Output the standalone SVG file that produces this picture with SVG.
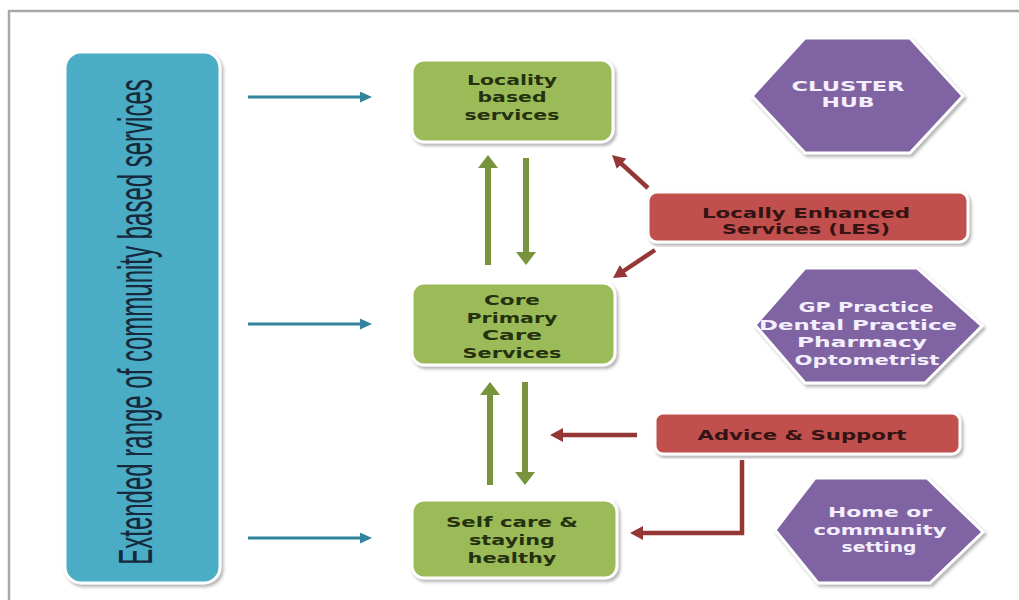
<svg xmlns="http://www.w3.org/2000/svg" width="1019" height="600" viewBox="0 0 1019 600">
<defs>
<style>
.frame{stroke:#a8a8a8;stroke-width:2.5;fill:none}
.box{stroke:#ffffff;stroke-width:3;filter:url(#sh)}
.blue{fill:#4bacc6}
.green{fill:#9bbb59}
.red{fill:#c0504d}
.purple{fill:#8064a2}
.t{font-family:"DejaVu Sans","Verdana",sans-serif;font-weight:bold;font-size:14px;text-anchor:middle}
.tg{fill:#26320f}
.tr{fill:#331413}
.tp{fill:#f3eefb}
.vt{font-family:"Liberation Sans",Arial,sans-serif;font-size:48px;fill:#15283c;text-anchor:middle}
.ateal{stroke:#31849b;stroke-width:3;fill:none;marker-end:url(#mt)}
.agreen{stroke:#77933c;stroke-width:6;fill:none;marker-end:url(#mg)}
.ared{stroke:#953735;stroke-width:4.5;fill:none;marker-end:url(#mr)}
</style>
<filter id="sh" x="-10%" y="-10%" width="120%" height="120%">
<feDropShadow dx="2" dy="2.5" stdDeviation="1.5" flood-color="#777" flood-opacity="0.55"/>
</filter>
<marker id="mt" markerUnits="userSpaceOnUse" markerWidth="13" markerHeight="11" refX="2" refY="5.5" orient="auto"><path d="M0,0 L12,5.5 L0,11 z" fill="#31849b"/></marker>
<marker id="mg" markerUnits="userSpaceOnUse" markerWidth="14" markerHeight="20" refX="3" refY="10" orient="auto"><path d="M0,0 L13,10 L0,20 z" fill="#77933c"/></marker>
<marker id="mr" markerUnits="userSpaceOnUse" markerWidth="14" markerHeight="14" refX="3" refY="7" orient="auto"><path d="M0,0 L13,7 L0,14 z" fill="#953735"/></marker>
</defs>
<rect width="1019" height="600" fill="#ffffff"/>
<path class="frame" d="M1019,11 H9 V600"/>

<g id="community">
<rect class="box blue" x="65" y="52" width="155" height="531" rx="16"/>
<text class="vt" transform="translate(152,322) rotate(-90) scale(0.5,1)">Extended range of community based services</text>
</g>

<g id="locality">
<rect class="box green" x="412" y="60" width="201" height="82" rx="12"/>
<text class="t tg" x="512" y="85" textLength="90" lengthAdjust="spacingAndGlyphs">Locality</text>
<text class="t tg" x="512" y="102" textLength="69" lengthAdjust="spacingAndGlyphs">based</text>
<text class="t tg" x="512" y="120" textLength="95" lengthAdjust="spacingAndGlyphs">services</text>
</g>

<g id="core">
<rect class="box green" x="412" y="283" width="203" height="82" rx="12"/>
<text class="t tg" x="512" y="305" textLength="56" lengthAdjust="spacingAndGlyphs">Core</text>
<text class="t tg" x="512" y="323" textLength="91" lengthAdjust="spacingAndGlyphs">Primary</text>
<text class="t tg" x="512" y="340" textLength="60" lengthAdjust="spacingAndGlyphs">Care</text>
<text class="t tg" x="512" y="358" textLength="99" lengthAdjust="spacingAndGlyphs">Services</text>
</g>

<g id="selfcare">
<rect class="box green" x="412" y="500" width="205" height="78" rx="12"/>
<text class="t tg" x="512" y="527" textLength="132" lengthAdjust="spacingAndGlyphs">Self care &amp;</text>
<text class="t tg" x="512" y="545" textLength="86" lengthAdjust="spacingAndGlyphs">staying</text>
<text class="t tg" x="512" y="563" textLength="89" lengthAdjust="spacingAndGlyphs">healthy</text>
</g>

<g id="les">
<rect class="box red" x="648" y="192" width="320" height="50" rx="9"/>
<text class="t tr" x="806" y="218" textLength="208" lengthAdjust="spacingAndGlyphs">Locally Enhanced</text>
<text class="t tr" x="806" y="234" textLength="168" lengthAdjust="spacingAndGlyphs">Services (LES)</text>
</g>

<g id="advice">
<rect class="box red" x="655" y="413" width="305" height="41" rx="8"/>
<text class="t tr" x="802" y="440" textLength="209" lengthAdjust="spacingAndGlyphs">Advice &amp; Support</text>
</g>

<g id="clusterhub">
<polygon class="box purple" points="752,96 805,38 910,38 963,96 910,153 805,153"/>
<text class="t tp" x="848" y="91" textLength="113" lengthAdjust="spacingAndGlyphs">CLUSTER</text>
<text class="t tp" x="848" y="107" textLength="53" lengthAdjust="spacingAndGlyphs">HUB</text>
</g>

<g id="practices">
<polygon class="box purple" points="755,325 805,268 917,268 982,326 925,383 805,383"/>
<text class="t tp" x="866" y="312" textLength="135" lengthAdjust="spacingAndGlyphs">GP Practice</text>
<text class="t tp" x="858" y="330" textLength="198" lengthAdjust="spacingAndGlyphs">Dental Practice</text>
<text class="t tp" x="862" y="347" textLength="130" lengthAdjust="spacingAndGlyphs">Pharmacy</text>
<text class="t tp" x="867" y="365" textLength="145" lengthAdjust="spacingAndGlyphs">Optometrist</text>
</g>

<g id="home">
<polygon class="box purple" points="775,530 815,478 927,478 983,532 930,583 818,583"/>
<text class="t tp" x="880" y="517" textLength="104" lengthAdjust="spacingAndGlyphs">Home or</text>
<text class="t tp" x="880" y="535" textLength="133" lengthAdjust="spacingAndGlyphs">community</text>
<text class="t tp" x="879" y="552" textLength="75" lengthAdjust="spacingAndGlyphs">setting</text>
</g>

<g id="connectors">
<path class="ateal" d="M248,97 H362"/>
<path class="ateal" d="M248,324 H362"/>
<path class="ateal" d="M248,538 H362"/>
<path class="agreen" d="M488,265 V165"/>
<path class="agreen" d="M526,158 V255"/>
<path class="agreen" d="M490,485 V392"/>
<path class="agreen" d="M525,382 V475"/>
<path class="ared" d="M648,188 L619.4,161.8"/>
<path class="ared" d="M655,250 L621.3,272.5"/>
<path class="ared" d="M637,435 H560"/>
<path class="ared" d="M742,460 V533 H640"/>
</g>
</svg>
